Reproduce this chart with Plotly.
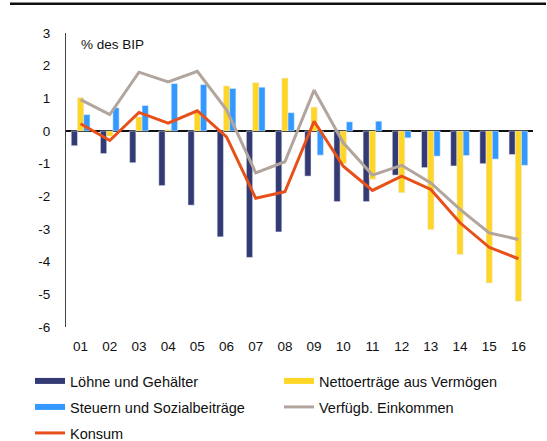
import plotly.graph_objects as go

years = ["01", "02", "03", "04", "05", "06", "07", "08", "09", "10", "11", "12", "13", "14", "15", "16"]
loehne = [-0.45, -0.69, -0.97, -1.67, -2.27, -3.24, -3.87, -3.09, -1.38, -2.16, -2.16, -1.35, -1.12, -1.07, -1.00, -0.72]
netto = [1.02, -0.16, 0.43, 0.04, 0.60, 1.38, 1.48, 1.62, 0.73, -1.00, -1.48, -1.89, -3.02, -3.78, -4.65, -5.21]
steuern = [0.50, 0.71, 0.78, 1.45, 1.42, 1.30, 1.34, 0.56, -0.74, 0.28, 0.30, -0.21, -0.77, -0.75, -0.86, -1.05]
einkommen = [0.96, 0.50, 1.80, 1.50, 1.83, 0.65, -1.28, -0.94, 1.25, -0.36, -1.35, -1.05, -1.59, -2.40, -3.12, -3.32]
konsum = [0.22, -0.29, 0.57, 0.24, 0.62, -0.18, -2.06, -1.86, 0.30, -1.08, -1.82, -1.38, -1.79, -2.81, -3.56, -3.91]
y_ticks = [3, 2, 1, 0, -1, -2, -3, -4, -5, -6]

C_NAVY = "#343a73"
C_YELLOW = "#ffd626"
C_BLUE = "#3399ff"
C_GREY = "#b1a59d"
C_ORANGE = "#e8501a"
FONT = "Liberation Sans, Arial, sans-serif"

fig = go.Figure()
fig.add_bar(x=years, y=loehne, marker_color=C_NAVY, showlegend=False, name="Löhne und Gehälter")
fig.add_bar(x=years, y=netto, marker_color=C_YELLOW, showlegend=False, name="Nettoerträge aus Vermögen")
fig.add_bar(x=years, y=steuern, marker_color=C_BLUE, showlegend=False, name="Steuern und Sozialbeiträge")
fig.add_scatter(x=years, y=einkommen, mode="lines", line=dict(color=C_GREY, width=3), showlegend=False,
                name="Verfügb. Einkommen")
fig.add_scatter(x=years, y=konsum, mode="lines", line=dict(color=C_ORANGE, width=3), showlegend=False,
                name="Konsum")

# legend entries (drawn as thick/thin line symbols like the reference)
leg = [
    ("Löhne und Gehälter", C_NAVY, 6, "legend"),
    ("Nettoerträge aus Vermögen", C_YELLOW, 6, "legend"),
    ("Steuern und Sozialbeiträge", C_BLUE, 6, "legend2"),
    ("Verfügb. Einkommen", C_GREY, 3, "legend2"),
    ("Konsum", C_ORANGE, 3, "legend3"),
]
for name, col, w, lg in leg:
    fig.add_scatter(x=[None], y=[None], mode="lines", line=dict(color=col, width=w), name=name,
                    legend=lg, showlegend=True)

L, R, T, B = 66, 14, 33, 114
W, H = 547, 441
pw = W - L - R
ph = H - T - B

def legcfg(row_y):
    return dict(orientation="h", x=(30 - L) / pw, xanchor="left",
                y=(H - B - row_y) / ph, yanchor="middle", entrywidth=204, entrywidthmode="pixels",
                font=dict(family=FONT, size=14.5, color="#111"), bgcolor="rgba(0,0,0,0)",
                traceorder="normal")

fig.update_layout(
    width=W, height=H,
    margin=dict(l=L, r=R, t=T, b=B, autoexpand=False),
    paper_bgcolor="white", plot_bgcolor="white",
    barmode="group", bargap=0.36, bargroupgap=0,
    font=dict(family=FONT, size=13, color="#111"),
    legend=legcfg(381), legend2=legcfg(407), legend3=legcfg(433),
    xaxis=dict(showline=False, ticks="", showgrid=False, zeroline=False, automargin=False,
               tickfont=dict(family=FONT, size=13.5, color="#111"), ticklabelstandoff=9),
    yaxis=dict(range=[-6, 3], tickvals=y_ticks, ticktext=[str(v) for v in y_ticks], automargin=False,
               showline=True, linecolor="#444", linewidth=1, ticks="", showgrid=False,
               zeroline=True, zerolinecolor="#111", zerolinewidth=1.5,
               tickfont=dict(family=FONT, size=13.5, color="#111"), ticklabelstandoff=12),
    shapes=[
        dict(type="line", xref="paper", yref="paper", x0=(10 - L) / pw, x1=(W - 1 - L) / pw,
             y0=(H - B - 4) / ph, y1=(H - B - 4) / ph, line=dict(color="#111", width=2)),
        dict(type="rect", xref="paper", yref="paper", x0=(10 - L) / pw, x1=(W - 1 - L) / pw,
             y0=(H - B - 4.5) / ph, y1=(H - B - 2.5) / ph, line=dict(width=0), fillcolor="#111"),
    ],
    annotations=[dict(text="% des BIP", xref="paper", yref="paper", x=(79 - L) / pw, y=(H - B - 44) / ph,
                      xanchor="left", yanchor="middle", showarrow=False,
                      font=dict(family=FONT, size=13.5, color="#111"))],
)

fig.write_html("out.html", config={"displayModeBar": False, "responsive": False},
               post_script="document.body.style.margin='0px';")
